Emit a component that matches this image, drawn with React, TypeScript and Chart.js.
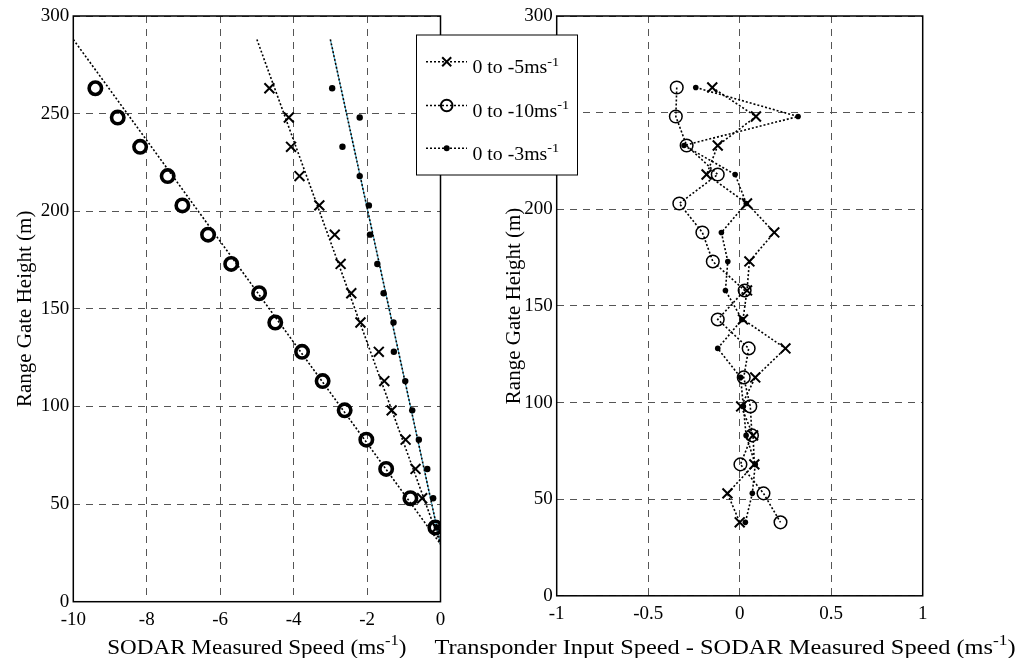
import React, { useEffect, useRef } from 'react';
import { Chart, registerables } from 'chart.js';

Chart.register(...registerables);

// Range gate heights (m), top gate first
const gateHeights = [263, 248, 233, 218, 203, 188, 173, 158, 143, 128, 113, 98, 83, 68, 53, 38];

// SODAR measured speed (m/s) for each transponder ramp
const measuredTo5 = [-4.66, -4.13, -4.07, -3.84, -3.30, -2.88, -2.72, -2.43, -2.18, -1.68, -1.53, -1.33, -0.95, -0.68, -0.50, -0.10];
const measuredTo10 = [-9.40, -8.79, -8.18, -7.43, -7.03, -6.33, -5.70, -4.94, -4.50, -3.77, -3.21, -2.61, -2.02, -1.48, -0.82, -0.14];
const measuredTo3 = [-2.95, -2.20, -2.67, -2.20, -1.95, -1.92, -1.72, -1.55, -1.28, -1.27, -0.96, -0.77, -0.59, -0.36, -0.20, -0.10];

// Transponder input speed minus SODAR measured speed (m/s)
const errorTo5 = [-0.15, 0.089, -0.12, -0.181, 0.04, 0.189, 0.053, 0.04, 0.018, 0.25, 0.085, 0.008, 0.073, 0.08, -0.067, 0.0];
const errorTo10 = [-0.344, -0.349, -0.29, -0.12, -0.33, -0.204, -0.147, 0.027, -0.12, 0.049, 0.022, 0.058, 0.067, 0.004, 0.13, 0.223];
const errorTo3 = [-0.24, 0.319, -0.304, -0.025, 0.036, -0.10, -0.065, -0.078, 0.013, -0.12, 0.005, 0.02, 0.035, 0.085, 0.069, 0.031];

// Input ramp lines: speed at the top end and the common heights of both ends
const rampTopSpeeds = [-5, -10, -3];
const rampHeights = [288, 29.5];

const seriesLabels = ['0 to -5ms', '0 to -10ms', '0 to -3ms'];
const heightTicks = [0, 50, 100, 150, 200, 250, 300];
const speedTicks = [-10, -8, -6, -4, -2, 0];
const errorTicks = [-1, -0.5, 0, 0.5, 1];

const W = 1027;
const H = 658;
const SERIF = '"Liberation Serif", "Times New Roman", Times, serif';
const TICK_FONT = { family: SERIF, size: 19 };
const STRETCH = 1.1;

type Part = { t: string; sup?: boolean };

function drawRich(
  ctx: CanvasRenderingContext2D,
  parts: Part[],
  x: number,
  y: number,
  size: number,
  align: 'center' | 'left',
  stretch = STRETCH
) {
  ctx.save();
  ctx.fillStyle = '#000';
  ctx.textAlign = 'left';
  ctx.textBaseline = 'alphabetic';
  const widths = parts.map((p) => {
    ctx.font = `${p.sup ? Math.round(size * 0.72) : size}px ${SERIF}`;
    return ctx.measureText(p.t).width;
  });
  const total = widths.reduce((a, b) => a + b, 0) * stretch;
  const startX = align === 'center' ? x - total / 2 : x;
  ctx.translate(startX, y);
  ctx.scale(stretch, 1);
  let cx = 0;
  parts.forEach((p, i) => {
    ctx.font = `${p.sup ? Math.round(size * 0.72) : size}px ${SERIF}`;
    ctx.fillText(p.t, cx, p.sup ? -size * 0.42 : 0);
    cx += widths[i];
  });
  ctx.restore();
}

function drawVertical(ctx: CanvasRenderingContext2D, text: string, x: number, y: number, size: number) {
  ctx.save();
  ctx.translate(x, y);
  ctx.rotate(-Math.PI / 2);
  ctx.font = `${size}px ${SERIF}`;
  ctx.fillStyle = '#000';
  ctx.textAlign = 'center';
  ctx.textBaseline = 'middle';
  ctx.fillText(text, 0, 0);
  ctx.restore();
}

function drawFrame(chart: Chart) {
  const { ctx, chartArea } = chart;
  ctx.save();
  ctx.strokeStyle = '#000';
  ctx.lineWidth = 1.5;
  ctx.strokeRect(chartArea.left, chartArea.top, chartArea.right - chartArea.left, chartArea.bottom - chartArea.top);
  ctx.restore();
}

function drawMarker(ctx: CanvasRenderingContext2D, kind: number, x: number, y: number) {
  ctx.save();
  ctx.strokeStyle = '#000';
  ctx.fillStyle = '#000';
  if (kind === 0) {
    ctx.lineWidth = 2;
    ctx.beginPath();
    ctx.moveTo(x - 4.5, y - 4.5);
    ctx.lineTo(x + 4.5, y + 4.5);
    ctx.moveTo(x - 4.5, y + 4.5);
    ctx.lineTo(x + 4.5, y - 4.5);
    ctx.stroke();
  } else if (kind === 1) {
    ctx.lineWidth = 2;
    ctx.beginPath();
    ctx.arc(x, y, 5.8, 0, Math.PI * 2);
    ctx.stroke();
  } else {
    ctx.beginPath();
    ctx.arc(x, y, 3, 0, Math.PI * 2);
    ctx.fill();
  }
  ctx.restore();
}

const leftDecor = {
  id: 'leftDecor',
  afterDraw(chart: Chart) {
    const { ctx, chartArea } = chart;
    drawFrame(chart);
    const cx = (chartArea.left + chartArea.right) / 2;
    drawRich(ctx, [{ t: 'SODAR Measured Speed (ms' }, { t: '-1', sup: true }, { t: ')' }], cx, 654, 21, 'center');
    drawVertical(ctx, 'Range Gate Height (m)', 25, (chartArea.top + chartArea.bottom) / 2, 21);

    // legend box
    const bx = 416.5;
    const by = 35;
    const bw = 161;
    const bh = 140;
    ctx.save();
    ctx.fillStyle = '#fff';
    ctx.fillRect(bx, by, bw, bh);
    ctx.strokeStyle = '#000';
    ctx.lineWidth = 1;
    ctx.strokeRect(bx, by, bw, bh);
    ctx.restore();
    const rows = [61.7, 105.5, 148.3];
    seriesLabels.forEach((label, i) => {
      const ry = rows[i];
      ctx.save();
      ctx.strokeStyle = '#000';
      ctx.lineWidth = 1.5;
      ctx.setLineDash([2, 2]);
      ctx.beginPath();
      ctx.moveTo(426, ry);
      ctx.lineTo(467, ry);
      ctx.stroke();
      ctx.restore();
      drawMarker(ctx, i, 446.7, ry);
      drawRich(ctx, [{ t: label }, { t: '-1', sup: true }], 472.5, ry + 11.5, 18, 'left');
    });
  },
};

const rightDecor = {
  id: 'rightDecor',
  afterDraw(chart: Chart) {
    const { ctx, chartArea } = chart;
    drawFrame(chart);
    drawRich(
      ctx,
      [{ t: 'Transponder Input Speed - SODAR Measured Speed (ms' }, { t: '-1', sup: true }, { t: ')' }],
      725,
      654,
      21,
      'center',
      1.16
    );
    drawVertical(ctx, 'Range Gate Height (m)', 514, (chartArea.top + chartArea.bottom) / 2, 21);
  },
};

const pts = (xs: number[]) => xs.map((x, i) => ({ x, y: gateHeights[i] }));
const ramp = (topSpeed: number) => [
  { x: topSpeed, y: rampHeights[0] },
  { x: 0, y: rampHeights[1] },
];

const gridOpts = { color: '#555', lineWidth: 1, drawTicks: false };
const borderOpts = { display: false, dash: [7, 6] };

function heightAxis(width: number) {
  return {
    type: 'linear' as const,
    min: 0,
    max: 300,
    afterBuildTicks: (scale: any) => {
      scale.ticks = heightTicks.map((v) => ({ value: v }));
    },
    ticks: { font: TICK_FONT, color: '#000', padding: 4, callback: (v: any) => String(v) },
    grid: gridOpts,
    border: borderOpts,
    afterFit: (scale: any) => {
      scale.width = width;
    },
  };
}

function xAxis(min: number, max: number, ticks: number[], height: number) {
  return {
    type: 'linear' as const,
    min,
    max,
    afterBuildTicks: (scale: any) => {
      scale.ticks = ticks.map((v) => ({ value: v }));
    },
    ticks: { font: TICK_FONT, color: '#000', padding: 7, maxRotation: 0, callback: (v: any) => String(v) },
    grid: gridOpts,
    border: borderOpts,
    afterFit: (scale: any) => {
      scale.height = height;
    },
  };
}

const dotted = { borderColor: '#000', borderWidth: 1.6, borderDash: [2, 2] };

export default function App() {
  const leftRef = useRef<HTMLCanvasElement>(null);
  const rightRef = useRef<HTMLCanvasElement>(null);

  useEffect(() => {
    const left = new Chart(leftRef.current as HTMLCanvasElement, {
      type: 'scatter',
      data: {
        datasets: [
          {
            label: seriesLabels[2],
            data: pts(measuredTo3),
            pointStyle: 'circle',
            pointRadius: 3.2,
            pointBorderWidth: 0,
            pointBackgroundColor: '#000',
            borderColor: '#000',
          },
          {
            label: seriesLabels[0],
            data: pts(measuredTo5),
            pointStyle: 'crossRot',
            pointRadius: 7,
            pointBorderWidth: 2,
            pointBorderColor: '#000',
            borderColor: '#000',
          },
          {
            label: seriesLabels[1],
            data: pts(measuredTo10),
            pointStyle: 'circle',
            pointRadius: 6.2,
            pointBorderWidth: 3.6,
            pointBorderColor: '#000',
            pointBackgroundColor: 'rgba(0,0,0,0)',
            borderColor: '#000',
          },
          { data: ramp(rampTopSpeeds[0]), showLine: true, pointRadius: 0, ...dotted },
          { data: ramp(rampTopSpeeds[1]), showLine: true, pointRadius: 0, ...dotted },
          { data: ramp(rampTopSpeeds[2]), showLine: true, pointRadius: 0, ...dotted },
          {
            data: ramp(rampTopSpeeds[2]),
            showLine: true,
            pointRadius: 0,
            borderColor: '#2aa6cc',
            borderWidth: 1.2,
            borderDash: [2, 2],
            borderDashOffset: 2,
          },
        ],
      },
      options: {
        responsive: false,
        animation: false,
        events: [],
        layout: { padding: { left: 0, right: W - 440.5, top: 16, bottom: 0 } },
        plugins: { legend: { display: false }, tooltip: { enabled: false } },
        scales: {
          x: xAxis(-10, 0, speedTicks, H - 601.7),
          y: heightAxis(73.3),
        },
      },
      plugins: [leftDecor],
    });

    const right = new Chart(rightRef.current as HTMLCanvasElement, {
      type: 'scatter',
      data: {
        datasets: [
          {
            label: seriesLabels[0],
            data: pts(errorTo5),
            showLine: true,
            pointStyle: 'crossRot',
            pointRadius: 7,
            pointBorderWidth: 2,
            pointBorderColor: '#000',
            ...dotted,
          },
          {
            label: seriesLabels[2],
            data: pts(errorTo3),
            showLine: true,
            pointStyle: 'circle',
            pointRadius: 2.8,
            pointBorderWidth: 0,
            pointBackgroundColor: '#000',
            ...dotted,
          },
          {
            label: seriesLabels[1],
            data: pts(errorTo10),
            showLine: true,
            pointStyle: 'circle',
            pointRadius: 6.3,
            pointBorderWidth: 1.5,
            pointBorderColor: '#000',
            pointBackgroundColor: 'rgba(0,0,0,0)',
            ...dotted,
          },
        ],
      },
      options: {
        responsive: false,
        animation: false,
        events: [],
        layout: { padding: { left: 400, right: W - 922.7, top: 16, bottom: 0 } },
        plugins: { legend: { display: false }, tooltip: { enabled: false } },
        scales: {
          x: xAxis(-1, 1, errorTicks, H - 595.8),
          y: heightAxis(156.7),
        },
      },
      plugins: [rightDecor],
    });

    return () => {
      left.destroy();
      right.destroy();
    };
  }, []);

  return (
    <div style={{ position: 'fixed', left: 0, top: 0, width: W, height: H, background: '#fff' }}>
      <canvas ref={rightRef} width={W} height={H} style={{ position: 'absolute', left: 0, top: 0 }} />
      <canvas ref={leftRef} width={W} height={H} style={{ position: 'absolute', left: 0, top: 0 }} />
    </div>
  );
}
